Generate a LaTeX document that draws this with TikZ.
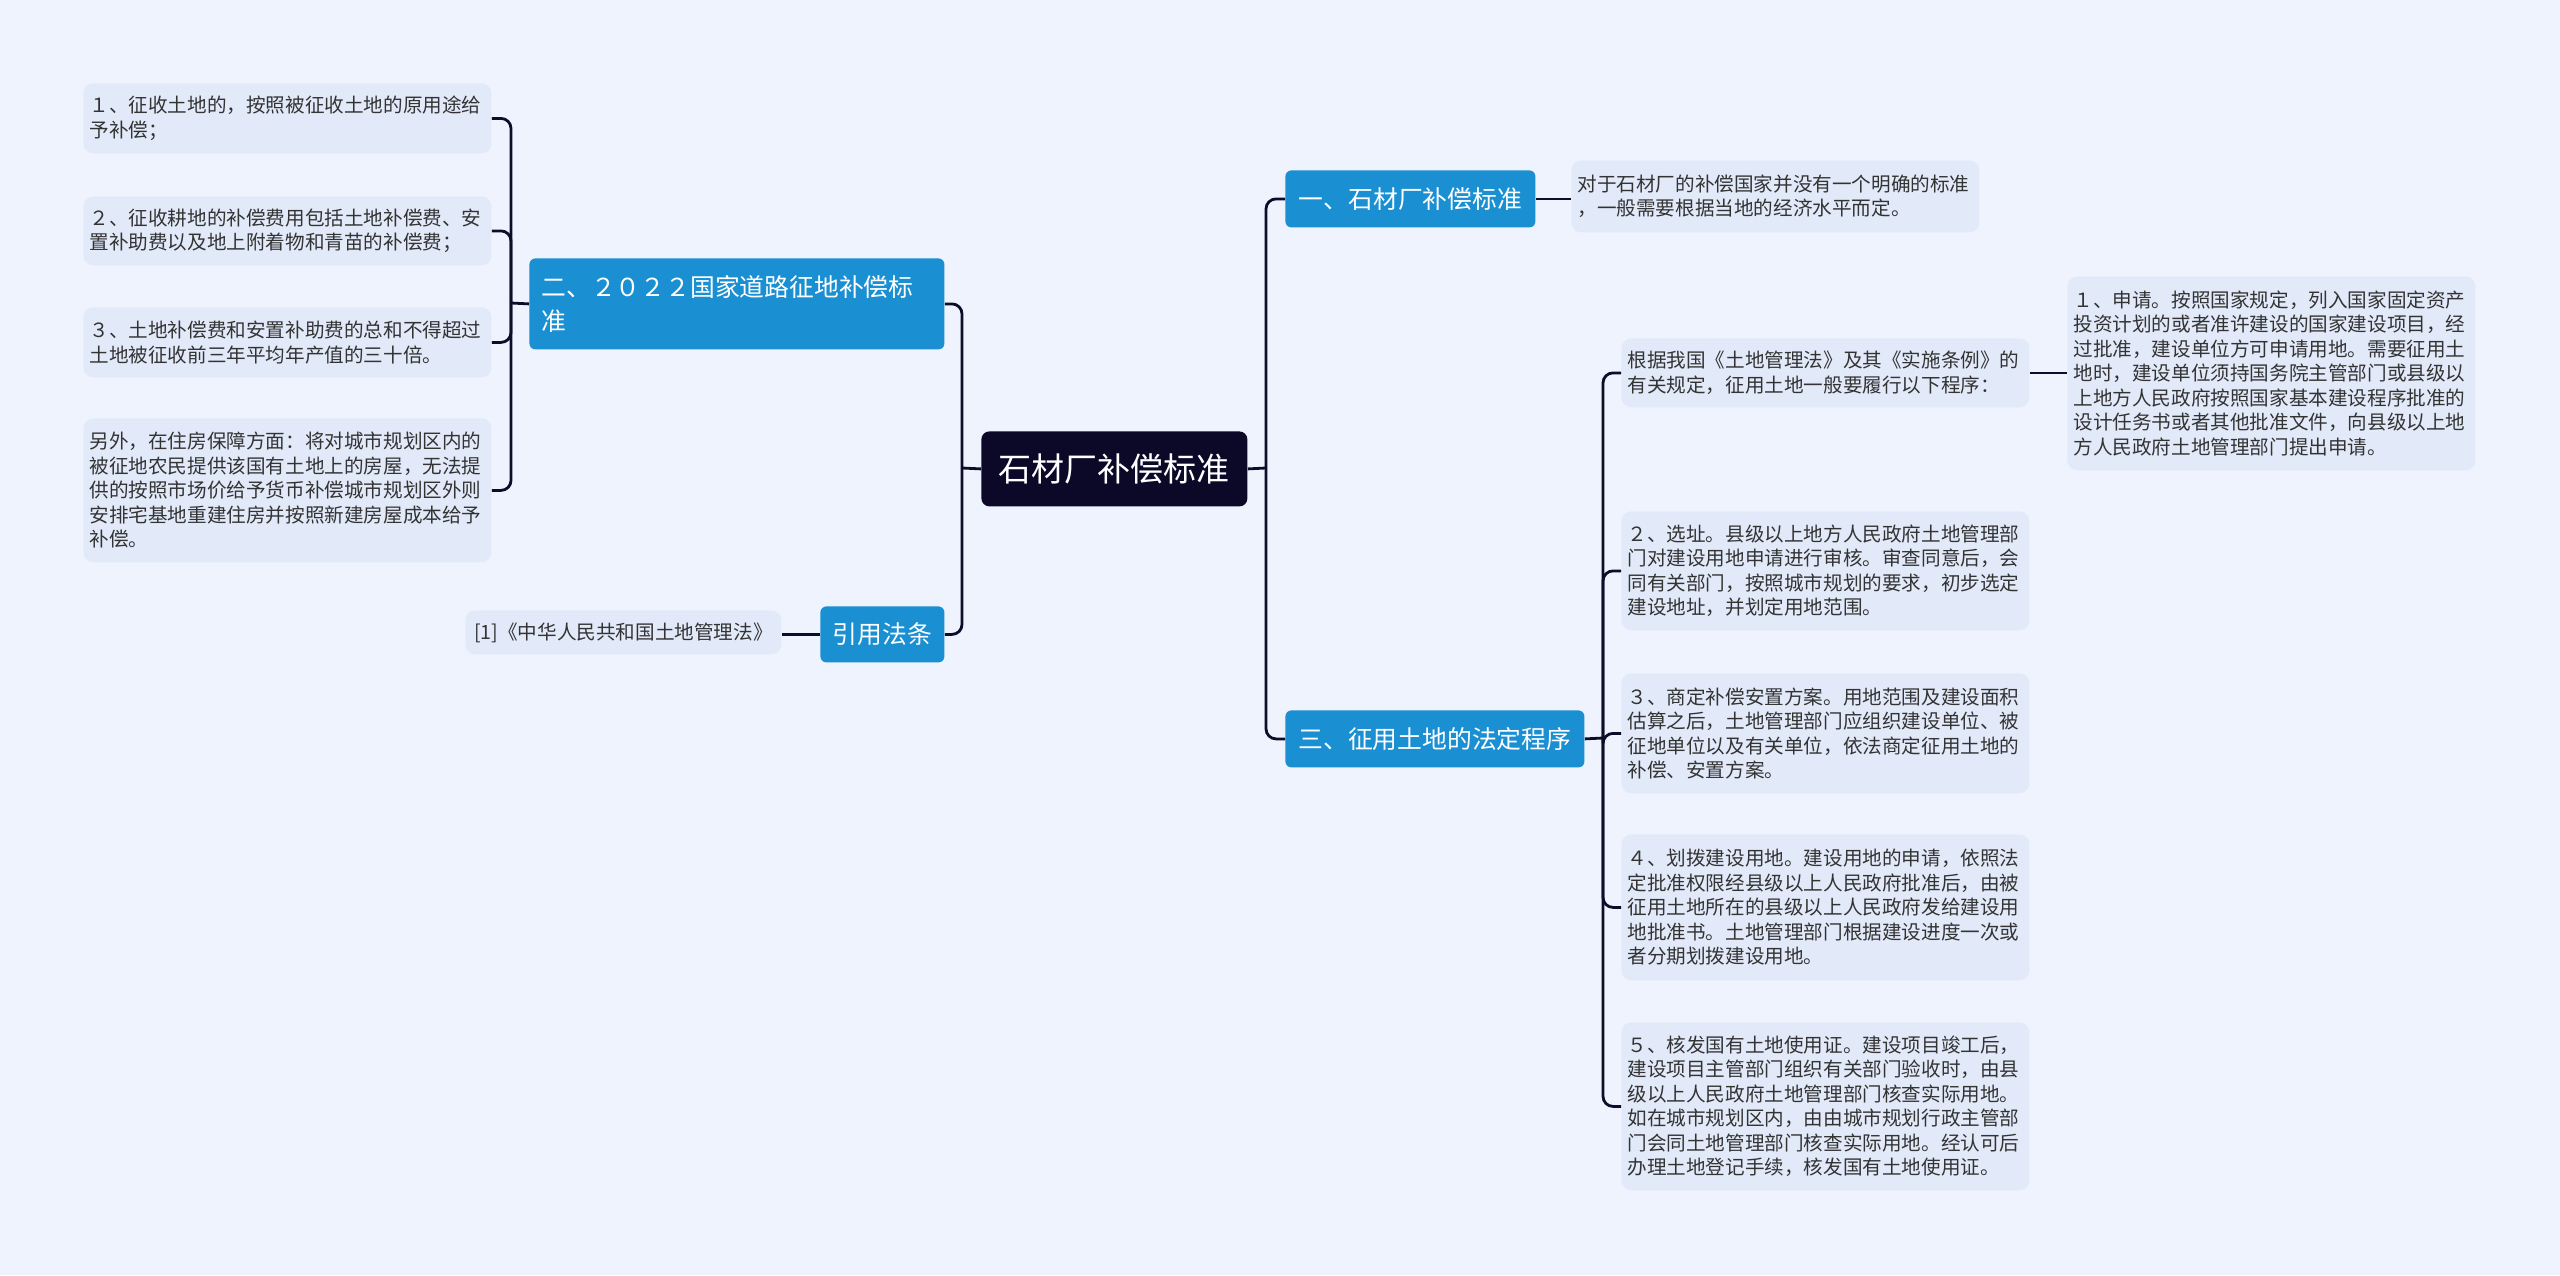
\documentclass[tikz,border=0pt]{standalone}
\usepackage{fontspec}
\setmainfont{Noto Sans CJK SC}
\definecolor{bgc}{HTML}{EEF3FD}
\definecolor{leaffill}{HTML}{E2EAFA}
\definecolor{branchc}{HTML}{1A8FD2}
\definecolor{rootc}{HTML}{0B0828}
\definecolor{linec}{HTML}{0D0D2A}
\definecolor{txtc}{HTML}{333333}
\tikzset{
  leafbox/.style={fill=leaffill, rounded corners=5pt, anchor=north west, inner xsep=3pt, inner ysep=2pt,
    minimum width=204pt, text width=198pt, align=left, text=txtc,
    font=\fontsize{9.8pt}{12.25pt}\selectfont},
  branchbox/.style={fill=branchc, rounded corners=3pt, anchor=north west, text=white, align=center,
    font=\fontsize{12.4pt}{17pt}\selectfont, inner sep=2pt},
  rootbox/.style={fill=rootc, rounded corners=4pt, anchor=north west, text=white,
    minimum width=133pt, minimum height=37.5pt, font=\fontsize{16.5pt}{20pt}\selectfont},
  conn/.style={draw=linec, line width=1.4pt},
  elbow/.style={conn, rounded corners=5pt},
}
\begin{document}
\begin{tikzpicture}[x=0.5pt,y=-0.5pt]
\fill[bgc] (0,0) rectangle (2560,1275);
\useasboundingbox (0,0) rectangle (2560,1275);

% root
\node[rootbox] (root) at (981,431) {石材厂补偿标准};

% right branches
\node[branchbox, minimum width=125pt, minimum height=28.5pt] (b1) at (1285,170) {一、石材厂补偿标准};
\node[branchbox, minimum width=149.5pt, minimum height=28.5pt] (b3) at (1285,710) {三、征用土地的法定程序};

% left branches
\node[branchbox, minimum width=207.5pt, minimum height=45.5pt, text width=195.5pt, align=left, inner xsep=6pt] (b2) at (529,258) {二、２０２２国家道路征地补偿标\\准};
\node[branchbox, minimum width=62pt, minimum height=28pt] (b4) at (820,606) {引用法条};

% leaf of b1
\node[leafbox, minimum height=36pt] (b1l) at (1571,160) {对于石材厂的补偿国家并没有一个明确的标准\\，一般需要根据当地的经济水平而定。};

% leaves of b3
\node[leafbox, minimum height=34.5pt] (l0) at (1621,338) {根据我国《土地管理法》及其《实施条例》的\\有关规定，征用土地一般要履行以下程序：};
\node[leafbox, minimum height=97pt] (l1) at (2067,276) {１、申请。按照国家规定，列入国家固定资产\\投资计划的或者准许建设的国家建设项目，经\\过批准，建设单位方可申请用地。需要征用土\\地时，建设单位须持国务院主管部门或县级以\\上地方人民政府按照国家基本建设程序批准的\\设计任务书或者其他批准文件，向县级以上地\\方人民政府土地管理部门提出申请。};
\node[leafbox, minimum height=59.5pt] (l2) at (1621,511) {２、选址。县级以上地方人民政府土地管理部\\门对建设用地申请进行审核。审查同意后，会\\同有关部门，按照城市规划的要求，初步选定\\建设地址，并划定用地范围。};
\node[leafbox, minimum height=60pt] (l3) at (1621,673) {３、商定补偿安置方案。用地范围及建设面积\\估算之后，土地管理部门应组织建设单位、被\\征地单位以及有关单位，依法商定征用土地的\\补偿、安置方案。};
\node[leafbox, minimum height=73pt] (l4) at (1621,834) {４、划拨建设用地。建设用地的申请，依照法\\定批准权限经县级以上人民政府批准后，由被\\征用土地所在的县级以上人民政府发给建设用\\地批准书。土地管理部门根据建设进度一次或\\者分期划拨建设用地。};
\node[leafbox, minimum height=84pt] (l5) at (1621,1022) {５、核发国有土地使用证。建设项目竣工后，\\建设项目主管部门组织有关部门验收时，由县\\级以上人民政府土地管理部门核查实际用地。\\如在城市规划区内，由由城市规划行政主管部\\门会同土地管理部门核查实际用地。经认可后\\办理土地登记手续，核发国有土地使用证。};

% leaves of b2
\node[leafbox, minimum height=35pt] (q1) at (83,83) {１、征收土地的，按照被征收土地的原用途给\\予补偿；};
\node[leafbox, minimum height=34.5pt] (q2) at (83,196) {２、征收耕地的补偿费用包括土地补偿费、安\\置补助费以及地上附着物和青苗的补偿费；};
\node[leafbox, minimum height=35pt] (q3) at (83,307) {３、土地补偿费和安置补助费的总和不得超过\\土地被征收前三年平均年产值的三十倍。};
\node[leafbox, minimum height=72pt] (q4) at (83,418) {另外，在住房保障方面：将对城市规划区内的\\被征地农民提供该国有土地上的房屋，无法提\\供的按照市场价给予货币补偿城市规划区外则\\安排宅基地重建住房并按照新建房屋成本给予\\补偿。};

% leaf of b4
\node[leafbox, minimum width=158pt, text width=152pt, minimum height=22pt, align=center] (b4l) at (465,610) {[1]《中华人民共和国土地管理法》};

% trunk coordinates
\coordinate (tr) at (1266,468);
\coordinate (tl) at (962,468);
\coordinate (t3) at (1603,738);
\coordinate (t2) at (511,303);

% root connectors
\draw[conn] (root.east) -- (tr);
\draw[elbow] (tr) |- (b1.west);
\draw[elbow] (tr) |- (b3.west);
\draw[conn] (root.west) -- (tl);
\draw[elbow] (tl) |- (b2.east);
\draw[elbow] (tl) |- (b4.east);

% b1
\draw[conn] (b1.east) -- (b1.east -| b1l.west);

% b3
\draw[conn] (b3.east) -- (t3);
\draw[elbow] (t3) |- (l0.west);
\draw[elbow] (t3) |- (l2.west);
\draw[elbow] (t3) |- (l3.west);
\draw[elbow] (t3) |- (l4.west);
\draw[elbow] (t3) |- (l5.west);
\draw[conn] (l0.east) -- (l0.east -| l1.west);

% b2
\draw[conn] (b2.west) -- (t2);
\draw[elbow] (t2) |- (q1.east);
\draw[elbow] (t2) |- (q2.east);
\draw[elbow] (t2) |- (q3.east);
\draw[elbow] (t2) |- (q4.east);

% b4
\draw[conn] (b4.west) -- (b4.west -| b4l.east);
\end{tikzpicture}
\end{document}
